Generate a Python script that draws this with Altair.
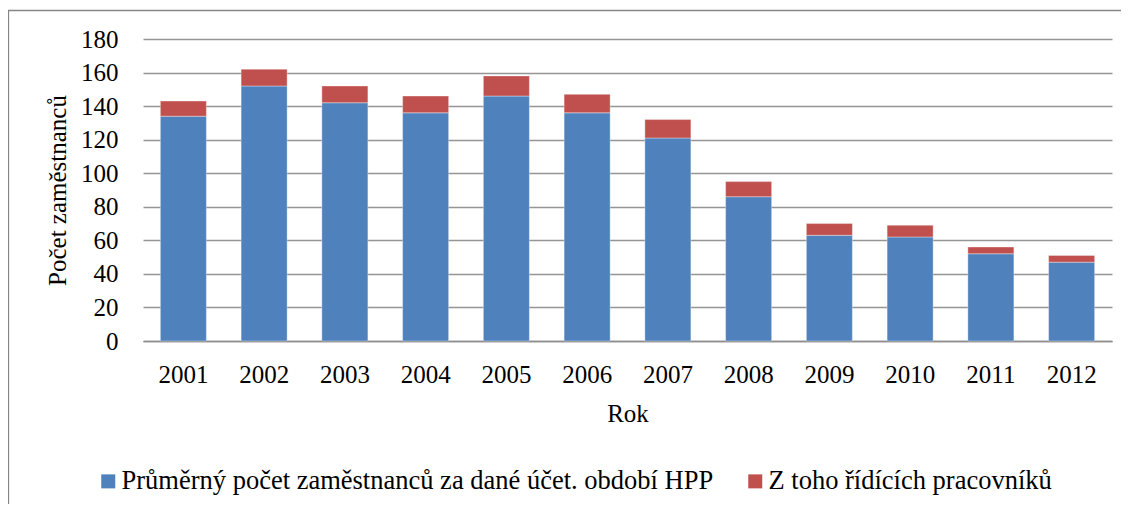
import altair as alt
import pandas as pd

years = ["2001", "2002", "2003", "2004", "2005", "2006", "2007", "2008", "2009", "2010", "2011", "2012"]
hpp = [134, 152, 142, 136, 146, 136, 121, 86, 63, 62, 52, 47]
ridici = [9, 10, 10, 10, 12, 11, 11, 9, 7, 7, 4, 4]
series = ["Průměrný počet zaměstnanců za dané účet. období HPP", "Z toho řídících pracovníků"]
colors = ["#4F81BD", "#C0504D"]
yticks = [0, 20, 40, 60, 80, 100, 120, 140, 160, 180]

rows = []
for i, y in enumerate(years):
    rows.append({"Rok": y, "serie": series[0], "hodnota": hpp[i], "ord": 0})
    rows.append({"Rok": y, "serie": series[1], "hodnota": ridici[i], "ord": 1})
df = pd.DataFrame(rows)

FONT = "Liberation Serif"

bars = alt.Chart(df).mark_bar(stroke="#ffffff", strokeOpacity=0.35, strokeWidth=1).encode(
    x=alt.X("Rok:N", sort=years,
            scale=alt.Scale(paddingInner=0.43, paddingOuter=0.215),
            axis=alt.Axis(title="Rok", labelAngle=0, ticks=False, domain=True,
                          domainColor="#8c8c8c", domainWidth=1.3,
                          labelPadding=41, labelBaseline="alphabetic",
                          titlePadding=10, titleY=80, titleBaseline="alphabetic",
                          grid=False)),
    y=alt.Y("hodnota:Q", stack="zero",
            scale=alt.Scale(domain=[0, 180], nice=False),
            axis=alt.Axis(title="Počet zaměstnanců", values=yticks, ticks=False, domain=False,
                          gridColor="#959595", gridWidth=1.3, labelPadding=25,
                          titleX=-86, titleY=151, titleBaseline="middle", titleAngle=-90)),
    color=alt.Color("serie:N", sort=series,
                    scale=alt.Scale(domain=series, range=colors),
                    legend=alt.Legend(title=None, orient="none", direction="horizontal",
                                      legendX=-48, legendY=429, symbolType="square",
                                      symbolSize=196, symbolStrokeWidth=0, labelOffset=0,
                                      columnPadding=28, labelLimit=0, padding=0)),
    order=alt.Order("ord:Q", sort="ascending"),
)

border = alt.Chart(pd.DataFrame({"a": [0]})).mark_rect(
    fillOpacity=0, stroke="#868686", strokeWidth=1.3
).encode(
    x=alt.value(-134.5), x2=alt.value(1300), y=alt.value(-28.5), y2=alt.value(700)
)

chart = alt.layer(bars, border).properties(
    width=969, height=302,
    autosize=alt.AutoSizeParams(type="none"),
    padding={"left": 135, "top": 31, "right": 9, "bottom": 163},
).configure_view(stroke=None).configure_axis(
    labelFont=FONT, titleFont=FONT, labelFontSize=25, titleFontSize=25,
    labelColor="#000000", titleColor="#000000", titleFontWeight="normal",
).configure_legend(
    labelFont=FONT, labelFontSize=26.5, labelColor="#000000"
)

chart.save("out.html", embed_options={"renderer": "svg", "actions": False})
